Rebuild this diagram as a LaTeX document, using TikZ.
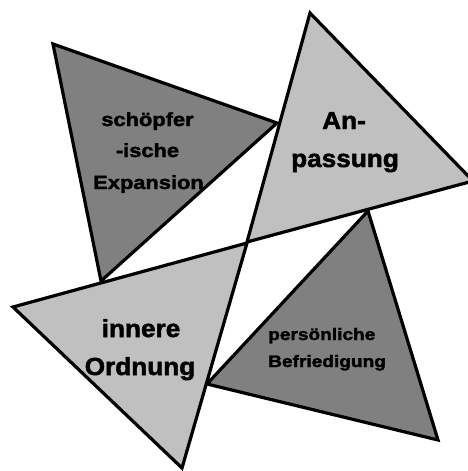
\documentclass[tikz,border=0pt]{standalone}
\usepackage{fontspec}
\newfontfamily\fa[FakeStretch=1.15,FakeBold=2]{Liberation Sans Bold}
\newfontfamily\fb[FakeStretch=1.06,FakeBold=2]{Liberation Sans Bold}
\definecolor{darkg}{HTML}{808080}
\definecolor{lightg}{HTML}{C0C0C0}
\begin{document}
\begin{tikzpicture}[x=1pt,y=-1pt,
  tri/.style={draw=black,line width=3.2pt,line join=miter},
  darktri/.style={tri,fill=darkg},
  lighttri/.style={tri,fill=lightg},
  smalltxt/.style={inner sep=0pt,anchor=base,font=\fa\fontsize{19}{19}\selectfont},
  bigtxt/.style={inner sep=0pt,anchor=base,font=\fb\fontsize{24.7}{24.7}\selectfont},
  tinytxt/.style={inner sep=0pt,anchor=base west,font=\fa\fontsize{16.6}{16.6}\selectfont}]
\useasboundingbox (0,0) rectangle (468,471);
% dark triangles
\draw[darktri] (53,44) -- (277,123) -- (101,281) -- cycle;
\draw[darktri] (368,211) -- (438,440) -- (207,384) -- cycle;
% light triangles
\draw[lighttri] (310,13) -- (473,181) -- (247,242) -- cycle;
\draw[lighttri] (13,307) -- (247,243) -- (182,468) -- cycle;
% texts
\node[smalltxt] (t1a) at (147.5,126) {schöpfer};
\node[smalltxt] (t1b) at (147.5,157) {-ische};
\node[smalltxt] (t1c) at (148.5,189) {Expansion};
\node[bigtxt] (t2a) at (344,129) {An-};
\node[bigtxt] (t2b) at (345,167) {passung};
\node[bigtxt] (t3a) at (141,337) {innere};
\node[bigtxt] (t3b) at (140,375) {Ordnung};
\node[tinytxt] (t4a) at (268,340) {persönliche};
\node[tinytxt] (t4b) at (268,367) {Befriedigung};
\end{tikzpicture}
\end{document}
